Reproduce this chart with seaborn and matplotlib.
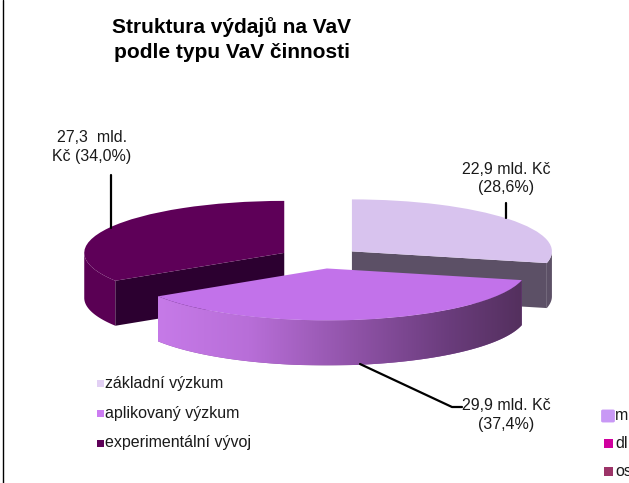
import numpy as np
import matplotlib
matplotlib.use("Agg")
import matplotlib.pyplot as plt
import seaborn as sns
from matplotlib.patches import Polygon, Rectangle, FancyBboxPatch
from matplotlib.lines import Line2D
from matplotlib.colors import LinearSegmentedColormap

# ---------------- data ----------------
categories = ["základní výzkum", "aplikovaný výzkum", "experimentální vývoj"]
values_bn = [22.9, 29.9, 27.3]          # mld. Kč
shares_pct = [28.6, 37.4, 34.0]         # %
top_colors = ["#D8C3EE", "#C272EA", "#5E0058"]
side_colors = ["#5C5066", "#8A4FA2", "#5A0054"]
cut_colors = ["#5C5066", "#6A3A80", "#2C0030"]
legend_colors = ["#E2D0F4", "#CC7CF2", "#5E0058"]
extra_labels = ["m", "dl", "os"]
extra_colors = ["#C898F5", "#D0009E", "#9C3468"]
title_lines = ["Struktura výdajů na VaV", "podle typu VaV činnosti"]

sns.set_theme(style="white")
plt.rcParams["font.family"] = ["Liberation Sans", "DejaVu Sans"]

W, H = 629, 483
fig = plt.figure(figsize=(W / 100, H / 100), dpi=100)
ax = fig.add_axes([0, 0, 1, 1])
ax.set_axis_off()

# pixel geometry of the pie
cx_px, cy_px = 320, 258
rx_px, ry_px = 200, 52
depth = 45 / ry_px


def fx(x):
    return x / W


def fy(y):
    return 1 - y / H


wedges, _ = ax.pie(shares_pct, colors=top_colors, startangle=90,
                   counterclock=False, explode=[0.204] * 3, radius=1,
                   wedgeprops=dict(linewidth=0))
ax.set_aspect("auto")

front_idx = 1  # the slice nearest the viewer
grad_cmap = LinearSegmentedColormap.from_list(
    "g", [(0, "#C67AE8"), (0.25, "#B86ED8"), (0.55, "#8E52A6"),
          (0.8, "#6A3C7C"), (1, "#54305E")])

for i, w in enumerate(wedges):
    cx, cy = w.center
    r = w.r
    t1, t2 = w.theta1, w.theta2
    zs = 3 if i == front_idx else 1
    w.set_zorder(zs + 1)
    # outer rim (visible where sin < 0)
    th = np.linspace(t1, t2, 600)
    vis = np.sin(np.radians(th)) < 0
    if vis.any():
        runs = np.split(np.arange(len(th)), np.where(np.diff(vis.astype(int)) != 0)[0] + 1)
        for run in runs:
            if not vis[run[0]]:
                continue
            tt = np.radians(th[run])
            xs = cx + r * np.cos(tt)
            ys = cy + r * np.sin(tt)
            pts = np.concatenate([np.c_[xs, ys], np.c_[xs[::-1], ys[::-1] - depth]])
            if i == front_idx:
                poly = Polygon(pts, closed=True, facecolor=side_colors[i],
                               edgecolor="none", zorder=zs)
                ax.add_patch(poly)
                grad = np.linspace(0, 1, 256)[None, :]
                im = ax.imshow(grad, extent=[xs.min(), xs.max(), ys.min() - depth, ys.max()],
                               aspect="auto", cmap=grad_cmap, zorder=zs + 0.5,
                               interpolation="bilinear")
                im.set_clip_path(poly)
            else:
                ax.add_patch(Polygon(pts, closed=True, facecolor=side_colors[i],
                                     edgecolor="none", zorder=zs))
    # radial cut faces
    for a, nrm in ((t1, t1 - 90), (t2, t2 + 90)):
        if np.sin(np.radians(nrm)) < -1e-6:
            ex, ey = cx + r * np.cos(np.radians(a)), cy + r * np.sin(np.radians(a))
            pts = [(cx, cy), (ex, ey), (ex, ey - depth), (cx, cy - depth)]
            ax.add_patch(Polygon(pts, closed=True, facecolor=cut_colors[i],
                                 edgecolor="none", zorder=zs))

ax.set_xlim(-cx_px / rx_px, (W - cx_px) / rx_px)
ax.set_ylim(-(H - cy_px) / ry_px, cy_px / ry_px)

# ---------------- title ----------------
fig.text(fx(232), fy(27), title_lines[0], ha="center", va="center",
         fontsize=15, fontweight="bold", color="#000000")
fig.text(fx(232), fy(52), title_lines[1], ha="center", va="center",
         fontsize=15, fontweight="bold", color="#000000")


def fmt(v, p):
    return f"{v:.1f}".replace(".", ","), f"{p:.1f}".replace(".", ",")

lab_fs = 11.5
# data labels
v, p = fmt(values_bn[2], shares_pct[2])
fig.text(fx(92), fy(137), f"{v}  mld.", ha="center", va="center", fontsize=lab_fs, color="#1A1A1A")
fig.text(fx(92), fy(156), f"Kč ({p}%)", ha="center", va="center", fontsize=lab_fs, color="#1A1A1A")
v, p = fmt(values_bn[0], shares_pct[0])
fig.text(fx(506), fy(169), f"{v} mld. Kč", ha="center", va="center", fontsize=lab_fs, color="#1A1A1A")
fig.text(fx(506), fy(188), f"({p}%)", ha="center", va="center", fontsize=lab_fs, color="#1A1A1A")
v, p = fmt(values_bn[1], shares_pct[1])
fig.text(fx(506), fy(405), f"{v} mld. Kč", ha="center", va="center", fontsize=lab_fs, color="#1A1A1A")
fig.text(fx(506), fy(424), f"({p}%)", ha="center", va="center", fontsize=lab_fs, color="#1A1A1A")

# leader lines
for xs, ys in (([111, 111], [175, 228]),
               ([506, 506], [203, 218]),
               ([360, 452, 462], [364, 407, 407])):
    fig.add_artist(Line2D([fx(x) for x in xs], [fy(y) for y in ys],
                          transform=fig.transFigure, color="#000000", lw=1.6))

# ---------------- legend ----------------
leg_y = [383.5, 413.5, 443]
for lab, col, y in zip(categories, legend_colors, leg_y):
    fig.add_artist(Rectangle((fx(96.5), fy(y + 3.5)), 7 / W, 7 / H,
                             transform=fig.transFigure, facecolor=col, edgecolor="none"))
    fig.text(fx(105), fy(y), lab, ha="left", va="center", fontsize=lab_fs, color="#1A1A1A")

ex_y = [416, 443, 471.5]
ex_size = [14, 9, 9]
for lab, col, y, s in zip(extra_labels, extra_colors, ex_y, ex_size):
    x0 = 615 - s
    if s > 10:
        fig.add_artist(FancyBboxPatch((fx(x0 + 2), fy(y + s / 2 - 2)), (s - 4) / W, (s - 4) / H,
                                      boxstyle="round,pad=0.003", transform=fig.transFigure,
                                      facecolor=col, edgecolor="none"))
    else:
        fig.add_artist(Rectangle((fx(x0 - 2), fy(y + s / 2)), s / W, s / H,
                                 transform=fig.transFigure, facecolor=col, edgecolor="none"))
    fig.text(fx(615), fy(y), lab, ha="left", va="center", fontsize=lab_fs, color="#1A1A1A")

# left border line
fig.add_artist(Line2D([fx(2.5), fx(2.5)], [0, 1], transform=fig.transFigure,
                      color="#000000", lw=1))

fig.savefig("out.png", dpi=100)
